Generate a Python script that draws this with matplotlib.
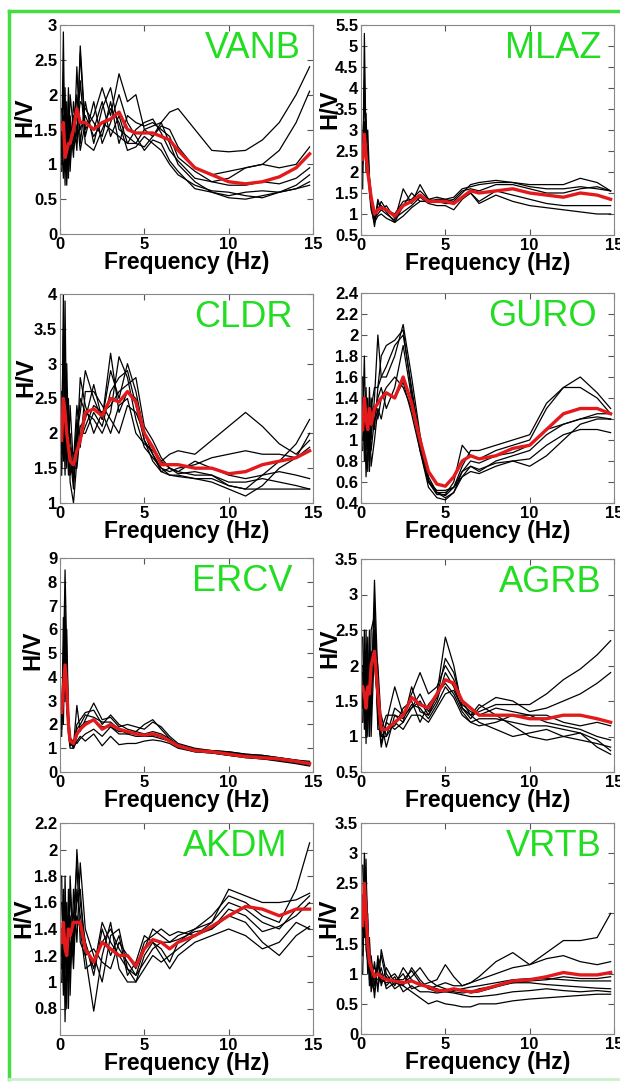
import matplotlib
matplotlib.use("Agg")
import matplotlib.pyplot as plt
from matplotlib.lines import Line2D

plt.rcParams['font.family'] = ['Liberation Sans', 'DejaVu Sans']

# Frequency grid (Hz)
freq = [0.1, 0.2, 0.3, 0.4, 0.5, 0.6, 0.8, 1.0, 1.2, 1.5, 2.0, 2.5, 3.0, 3.5, 4.0,
        4.5, 5.0, 5.5, 6.0, 6.5, 7.0, 8.0, 9.0, 10.0, 11.0, 12.0, 13.0, 14.0, 14.8]

stations = ["VANB", "MLAZ", "CLDR", "GURO", "ERCV", "AGRB", "AKDM", "VRTB"]

# ---------------- VANB ----------------
vanb_mean = [1.5, 1.6, 1.1, 1.2, 1.3, 1.3, 1.5, 1.8, 1.6, 1.6, 1.5, 1.6, 1.65, 1.75, 1.5,
             1.45, 1.45, 1.45, 1.4, 1.35, 1.2, 0.95, 0.85, 0.75, 0.72, 0.75, 0.82, 0.95, 1.15]
vanb_curves = [
    [1.2, 2.9, 0.9, 1.6, 1.0, 1.4, 1.3, 2.0, 1.5, 1.7, 1.4, 1.6, 1.5, 1.4, 1.3, 1.3, 1.5, 1.55, 1.6, 1.75, 1.8, 1.5, 1.2, 1.18, 1.2, 1.35, 1.6, 2.0, 2.4],
    [1.6, 1.1, 2.1, 0.8, 1.8, 1.0, 1.7, 1.2, 2.7, 1.5, 1.7, 2.1, 1.7, 2.3, 1.9, 2.0, 1.5, 1.4, 1.55, 1.5, 1.25, 0.95, 0.85, 0.9, 0.95, 1.0, 1.2, 1.6, 2.05],
    [1.0, 1.7, 0.7, 1.9, 0.9, 1.6, 1.1, 2.4, 1.3, 1.9, 1.3, 1.8, 2.1, 1.5, 1.4, 1.3, 1.25, 1.4, 1.6, 1.3, 1.0, 0.75, 0.6, 0.55, 0.6, 0.62, 0.6, 0.7, 0.85],
    [1.4, 0.8, 1.4, 0.7, 1.6, 0.9, 1.9, 1.4, 2.6, 1.4, 1.9, 1.3, 1.6, 2.0, 1.6, 1.4, 1.2, 1.35, 1.3, 1.05, 0.9, 0.65, 0.6, 0.52, 0.5, 0.55, 0.6, 0.65, 0.7],
    [1.8, 1.3, 1.0, 1.5, 1.2, 2.0, 1.5, 1.7, 1.2, 1.6, 1.5, 1.9, 1.4, 1.7, 1.3, 1.5, 1.6, 1.65, 1.45, 1.2, 1.05, 0.8, 0.75, 0.8, 0.95, 1.0, 0.95, 1.0, 1.25],
    [1.1, 2.2, 1.2, 1.0, 2.1, 1.2, 1.4, 1.3, 2.2, 1.3, 1.2, 1.5, 1.8, 1.6, 1.2, 1.25, 1.4, 1.3, 1.2, 1.0, 0.85, 0.7, 0.62, 0.6, 0.55, 0.52, 0.6, 0.65, 0.75],
    [0.9, 1.5, 1.8, 1.3, 0.8, 1.7, 1.2, 1.5, 1.9, 1.8, 1.6, 1.4, 1.9, 1.3, 1.7, 1.6, 1.55, 1.6, 1.5, 1.4, 1.1, 0.9, 0.75, 0.7, 0.7, 0.75, 0.72, 0.8, 0.95],
]

# ---------------- MLAZ ----------------
mlaz_mean = [2.3, 2.9, 2.4, 2.0, 1.7, 1.4, 1.0, 1.1, 1.15, 1.1, 0.95, 1.2, 1.3, 1.45, 1.3,
             1.3, 1.3, 1.25, 1.4, 1.55, 1.5, 1.55, 1.6, 1.5, 1.45, 1.4, 1.5, 1.45, 1.35]
mlaz_curves = [
    [1.6, 5.3, 2.5, 3.0, 1.9, 1.5, 0.8, 1.35, 1.1, 1.0, 0.85, 1.6, 1.25, 1.7, 1.35, 1.4, 1.35, 1.4, 1.6, 1.65, 1.7, 1.75, 1.75, 1.7, 1.7, 1.7, 1.85, 1.75, 1.55],
    [2.6, 3.7, 3.0, 2.2, 1.6, 1.2, 0.7, 1.25, 1.2, 1.05, 0.8, 1.2, 1.5, 1.3, 1.3, 1.35, 1.35, 1.3, 1.5, 1.7, 1.75, 1.8, 1.75, 1.65, 1.6, 1.6, 1.65, 1.6, 1.55],
    [2.2, 3.2, 2.0, 2.6, 1.8, 1.3, 0.9, 1.0, 1.1, 1.2, 0.9, 1.05, 1.2, 1.4, 1.25, 1.2, 1.2, 1.1, 1.35, 1.5, 1.3, 1.55, 1.45, 1.35, 1.25, 1.2, 1.2, 1.2, 1.2],
    [2.0, 4.2, 2.7, 2.3, 1.5, 1.1, 0.8, 0.95, 1.0, 0.9, 0.8, 0.95, 1.15, 1.3, 1.3, 1.3, 1.25, 1.25, 1.4, 1.5, 1.25, 1.45, 1.3, 1.2, 1.15, 1.1, 1.05, 1.0, 1.0],
    [2.4, 2.6, 3.4, 1.9, 1.7, 1.4, 1.0, 1.1, 1.3, 1.1, 1.0, 1.3, 1.35, 1.55, 1.35, 1.3, 1.3, 1.35, 1.55, 1.6, 1.55, 1.7, 1.7, 1.6, 1.5, 1.5, 1.6, 1.65, 1.55],
]

# ---------------- CLDR ----------------
cldr_mean = [1.9, 2.5, 2.3, 2.0, 1.8, 1.6, 1.55, 1.75, 1.9, 2.3, 2.35, 2.25, 2.5, 2.45, 2.6,
             2.45, 2.0, 1.8, 1.55, 1.55, 1.55, 1.5, 1.5, 1.42, 1.45, 1.55, 1.6, 1.65, 1.75]
cldr_curves = [
    [1.5, 4.0, 1.9, 2.6, 1.6, 2.0, 1.3, 2.0, 2.3, 2.9, 2.5, 2.2, 2.9, 2.5, 3.0, 2.6, 2.0, 1.8, 1.6, 1.7, 1.75, 1.7, 1.9, 2.1, 2.3, 2.1, 1.85, 1.7, 1.9],
    [2.2, 1.6, 3.9, 1.7, 2.2, 1.3, 1.0, 1.6, 2.1, 2.2, 2.7, 2.2, 3.15, 2.3, 2.6, 2.5, 1.9, 1.7, 1.5, 1.4, 1.4, 1.35, 1.35, 1.25, 1.2, 1.4, 1.6, 1.85, 2.2],
    [1.8, 2.4, 1.4, 3.0, 1.9, 1.7, 1.2, 1.9, 2.5, 2.3, 2.2, 2.0, 2.3, 3.1, 2.8, 2.2, 1.8, 1.65, 1.5, 1.45, 1.5, 1.55, 1.65, 1.7, 1.75, 1.7, 1.7, 1.65, 1.8],
    [2.6, 1.7, 2.1, 1.5, 2.5, 1.5, 1.4, 2.2, 1.8, 2.6, 2.6, 2.4, 2.2, 2.0, 2.4, 2.3, 2.0, 1.7, 1.45, 1.4, 1.38, 1.35, 1.3, 1.2, 1.1, 1.25, 1.5, 1.65, 2.0],
    [1.4, 2.9, 2.6, 1.9, 1.7, 2.4, 1.5, 1.5, 2.0, 2.0, 2.3, 2.1, 2.6, 2.8, 2.9, 2.4, 1.9, 1.6, 1.45, 1.5, 1.45, 1.4, 1.4, 1.3, 1.3, 1.35, 1.3, 1.25, 1.2],
    [2.0, 3.5, 1.7, 2.3, 1.4, 1.8, 1.7, 1.8, 2.8, 2.4, 2.0, 2.3, 2.4, 2.6, 2.7, 2.8, 2.1, 1.9, 1.65, 1.5, 1.45, 1.6, 1.5, 1.4, 1.35, 1.4, 1.45, 1.4, 1.35],
    [1.7, 2.1, 3.0, 1.6, 1.9, 1.4, 1.6, 2.4, 1.9, 2.1, 2.4, 2.3, 2.0, 2.4, 2.5, 2.0, 1.85, 1.75, 1.6, 1.5, 1.42, 1.45, 1.4, 1.25, 1.2, 1.2, 1.2, 1.2, 1.2],
]

# ---------------- GURO ----------------
guro_mean = [1.1, 1.4, 1.2, 1.1, 1.3, 1.15, 1.3, 1.35, 1.4, 1.45, 1.4, 1.6, 1.35, 1.0, 0.7,
             0.58, 0.56, 0.65, 0.8, 0.85, 0.82, 0.85, 0.92, 0.95, 1.1, 1.25, 1.3, 1.3, 1.25]
guro_curves = [
    [1.6, 0.8, 1.4, 0.7, 1.5, 1.0, 1.4, 2.0, 1.6, 1.6, 1.8, 2.1, 1.6, 1.05, 0.65, 0.5, 0.47, 0.55, 0.75, 0.9, 0.9, 0.95, 1.0, 1.05, 1.35, 1.5, 1.6, 1.45, 1.3],
    [1.2, 1.8, 0.9, 1.3, 0.7, 1.4, 1.1, 1.5, 1.8, 1.9, 1.95, 2.05, 1.45, 1.0, 0.6, 0.48, 0.48, 0.6, 0.95, 0.85, 0.82, 0.9, 0.95, 1.0, 1.3, 1.5, 1.5, 1.4, 1.25],
    [1.0, 1.3, 0.65, 1.1, 0.8, 1.2, 1.3, 1.2, 1.4, 1.5, 1.6, 1.5, 1.3, 0.95, 0.6, 0.5, 0.45, 0.5, 0.7, 0.75, 0.7, 0.8, 0.85, 0.9, 1.05, 1.15, 1.2, 1.22, 1.2],
    [1.4, 1.0, 1.5, 0.8, 1.2, 0.9, 1.2, 1.4, 1.5, 1.3, 1.5, 1.9, 1.4, 0.9, 0.55, 0.45, 0.43, 0.5, 0.65, 0.75, 0.72, 0.78, 0.8, 0.82, 0.95, 1.05, 1.1, 1.1, 1.07],
    [0.9, 1.4, 1.1, 1.0, 1.3, 0.75, 1.0, 1.3, 1.2, 1.45, 1.4, 1.55, 1.25, 0.9, 0.6, 0.52, 0.52, 0.55, 0.65, 0.7, 0.68, 0.75, 0.8, 0.75, 0.85, 1.0, 1.15, 1.2, 1.2],
    [1.3, 1.1, 1.2, 1.4, 0.9, 1.3, 1.5, 1.5, 1.6, 1.7, 1.9, 2.0, 1.5, 1.0, 0.62, 0.5, 0.5, 0.55, 0.7, 0.8, 0.78, 0.85, 0.88, 0.95, 1.1, 1.15, 1.2, 1.25, 1.25],
]

# ---------------- ERCV ----------------
ercv_mean = [2.5, 3.5, 4.5, 3.5, 2.0, 1.3, 1.2, 1.6, 1.8, 2.0, 2.2, 1.8, 2.0, 1.8, 1.7,
             1.6, 1.55, 1.6, 1.5, 1.3, 1.1, 0.9, 0.85, 0.75, 0.65, 0.6, 0.55, 0.45, 0.35]
ercv_curves = [
    [2.0, 4.5, 8.5, 5.0, 2.5, 1.5, 1.0, 2.0, 2.2, 2.5, 2.6, 2.0, 2.4, 2.0, 1.8, 1.7, 1.6, 1.7, 1.6, 1.4, 1.15, 0.95, 0.9, 0.8, 0.7, 0.65, 0.55, 0.45, 0.35],
    [1.5, 6.5, 3.0, 4.0, 1.8, 1.2, 1.1, 2.8, 1.7, 2.2, 2.9, 2.2, 2.3, 1.9, 2.0, 1.9, 1.8, 2.1, 1.9, 1.5, 1.2, 1.0, 0.9, 0.85, 0.75, 0.7, 0.6, 0.5, 0.4],
    [3.0, 2.0, 5.5, 2.5, 2.2, 1.3, 1.0, 1.3, 1.5, 1.3, 1.6, 1.1, 1.5, 1.15, 1.2, 1.2, 1.3, 1.35, 1.3, 1.2, 1.0, 0.85, 0.8, 0.7, 0.6, 0.55, 0.5, 0.4, 0.3],
    [2.5, 3.0, 6.5, 3.0, 2.0, 1.1, 1.2, 1.8, 2.0, 2.4, 2.3, 2.1, 2.1, 1.8, 1.6, 1.5, 1.5, 1.5, 1.4, 1.3, 1.1, 0.9, 0.85, 0.8, 0.7, 0.6, 0.5, 0.4, 0.3],
    [1.8, 3.5, 4.0, 6.0, 2.3, 1.4, 1.3, 1.2, 1.4, 1.6, 1.8, 1.5, 1.9, 1.6, 1.6, 1.7, 2.0, 2.2, 1.8, 1.4, 1.1, 0.9, 0.9, 0.85, 0.75, 0.7, 0.6, 0.5, 0.45],
    [2.2, 5.0, 7.0, 2.8, 1.6, 1.0, 1.0, 1.5, 1.9, 2.1, 2.2, 1.9, 1.9, 1.7, 1.7, 1.6, 1.5, 1.55, 1.5, 1.3, 1.05, 0.85, 0.8, 0.7, 0.62, 0.55, 0.45, 0.35, 0.25],
]

# ---------------- AGRB ----------------
agrb_mean = [1.7, 1.6, 1.4, 1.7, 1.6, 2.0, 2.2, 1.6, 1.1, 1.1, 1.2, 1.3, 1.55, 1.45, 1.4,
             1.6, 1.8, 1.75, 1.5, 1.4, 1.3, 1.3, 1.3, 1.25, 1.25, 1.3, 1.3, 1.25, 1.2]
agrb_curves = [
    [2.4, 1.1, 2.5, 1.2, 2.2, 1.5, 3.2, 1.8, 1.0, 1.0, 1.4, 1.3, 1.6, 1.9, 1.6, 1.7, 2.0, 1.8, 1.5, 1.3, 1.35, 1.45, 1.45, 1.45, 1.6, 1.8, 1.95, 2.15, 2.35],
    [1.2, 2.5, 0.9, 2.4, 1.0, 2.5, 2.7, 1.4, 0.9, 1.2, 1.7, 1.3, 1.4, 1.5, 1.3, 1.6, 2.4, 2.0, 1.4, 1.25, 1.4, 1.55, 1.5, 1.35, 1.4, 1.5, 1.6, 1.75, 1.9],
    [1.6, 1.9, 1.3, 1.5, 1.8, 1.3, 2.9, 1.2, 1.3, 1.0, 1.2, 1.1, 1.3, 1.3, 1.2, 1.4, 1.6, 1.65, 1.4, 1.3, 1.2, 1.1, 1.0, 1.05, 1.1, 1.0, 0.95, 0.9, 0.85],
    [2.0, 1.4, 2.2, 1.0, 2.0, 1.7, 2.4, 2.0, 1.2, 0.85, 1.3, 1.2, 1.7, 1.35, 1.3, 1.5, 1.9, 1.7, 1.4, 1.3, 1.45, 1.3, 1.15, 1.0, 0.95, 1.0, 1.05, 0.95, 0.8],
    [1.4, 2.2, 1.0, 1.9, 1.3, 2.2, 2.0, 1.5, 1.0, 1.1, 1.15, 1.4, 1.5, 1.2, 1.45, 1.6, 1.75, 1.6, 1.35, 1.2, 1.15, 1.2, 1.3, 1.3, 1.3, 1.2, 1.15, 1.2, 1.15],
    [1.9, 1.2, 1.8, 1.4, 2.5, 1.0, 2.3, 1.3, 0.85, 1.2, 1.1, 1.2, 1.4, 1.6, 1.35, 1.55, 2.1, 1.9, 1.45, 1.35, 1.3, 1.4, 1.35, 1.3, 1.2, 1.15, 1.1, 1.0, 0.95],
    [1.5, 1.7, 1.2, 2.1, 1.1, 1.9, 2.5, 1.1, 1.1, 1.3, 1.3, 1.25, 1.45, 1.4, 1.25, 1.45, 1.7, 1.55, 1.3, 1.2, 1.25, 1.25, 1.2, 1.15, 1.15, 1.1, 1.05, 0.85, 0.75],
]

# ---------------- AKDM ----------------
akdm_mean = [1.3, 1.45, 1.25, 1.2, 1.4, 1.35, 1.45, 1.45, 1.45, 1.25, 1.15, 1.3, 1.25, 1.2, 1.2,
             1.12, 1.25, 1.32, 1.3, 1.25, 1.3, 1.35, 1.42, 1.5, 1.57, 1.55, 1.5, 1.55, 1.55]
akdm_curves = [
    [1.1, 1.7, 0.7, 1.5, 1.0, 1.8, 1.2, 2.0, 1.6, 1.3, 1.1, 1.45, 1.3, 1.2, 1.1, 1.05, 1.25, 1.4, 1.35, 1.3, 1.35, 1.4, 1.5, 1.65, 1.6, 1.5, 1.45, 1.7, 2.05],
    [1.8, 1.0, 1.6, 0.8, 1.7, 1.2, 1.5, 1.9, 1.3, 1.2, 0.78, 1.2, 1.45, 1.1, 1.0, 1.0, 1.2, 1.3, 1.25, 1.15, 1.3, 1.4, 1.45, 1.7, 1.65, 1.6, 1.6, 1.62, 1.67],
    [1.4, 0.9, 1.8, 1.1, 1.5, 0.9, 1.7, 1.3, 1.9, 1.4, 1.2, 1.0, 1.35, 1.4, 1.1, 1.0, 1.1, 1.2, 1.15, 1.2, 1.25, 1.35, 1.4, 1.5, 1.45, 1.3, 1.2, 1.35, 1.42],
    [1.2, 1.5, 1.1, 1.6, 0.8, 1.5, 1.1, 1.7, 1.5, 1.3, 1.05, 1.4, 1.2, 1.35, 1.05, 1.15, 1.35, 1.3, 1.2, 1.1, 1.2, 1.3, 1.35, 1.4, 1.35, 1.25, 1.3, 1.45, 1.4],
    [1.6, 1.3, 1.4, 1.0, 1.6, 1.1, 1.4, 1.6, 1.7, 1.2, 1.25, 1.15, 1.1, 1.3, 1.2, 1.1, 1.3, 1.35, 1.4, 1.35, 1.38, 1.35, 1.45, 1.6, 1.55, 1.45, 1.4, 1.55, 1.65],
    [1.0, 1.6, 1.2, 1.3, 1.1, 1.7, 1.3, 1.5, 1.4, 1.1, 1.15, 1.3, 1.4, 1.25, 1.15, 1.05, 1.15, 1.25, 1.3, 1.3, 1.32, 1.38, 1.4, 1.55, 1.5, 1.38, 1.42, 1.5, 1.6],
]

# ---------------- VRTB ----------------
vrtb_mean = [1.8, 2.5, 2.0, 1.5, 1.2, 1.1, 0.95, 1.0, 0.95, 0.9, 0.88, 0.85, 0.88, 0.82, 0.78,
             0.72, 0.72, 0.75, 0.72, 0.7, 0.72, 0.8, 0.88, 0.9, 0.95, 1.02, 0.98, 0.98, 1.02]
vrtb_curves = [
    [1.3, 3.0, 2.4, 1.8, 1.0, 1.3, 0.8, 1.1, 1.3, 0.9, 1.0, 0.8, 1.1, 0.9, 0.75, 0.8, 0.85, 0.8, 0.8, 0.85, 0.95, 1.2, 1.35, 1.15, 1.35, 1.55, 1.55, 1.6, 2.0],
    [2.8, 1.9, 2.9, 1.3, 1.5, 0.8, 1.2, 0.7, 1.4, 1.0, 0.8, 1.1, 0.9, 0.8, 0.85, 0.9, 1.15, 0.95, 0.8, 0.85, 0.9, 1.0, 1.1, 1.15, 1.25, 1.3, 1.2, 1.15, 1.2],
    [1.0, 2.2, 1.6, 2.0, 0.9, 1.2, 0.6, 1.2, 0.8, 1.1, 0.85, 0.8, 0.7, 0.6, 0.5, 0.55, 0.5, 0.48, 0.45, 0.45, 0.5, 0.5, 0.55, 0.58, 0.6, 0.62, 0.64, 0.66, 0.66],
    [2.0, 2.6, 1.8, 1.0, 1.3, 0.7, 1.0, 0.8, 1.0, 0.8, 0.95, 0.7, 0.8, 0.7, 0.7, 0.68, 0.7, 0.68, 0.65, 0.62, 0.62, 0.65, 0.7, 0.72, 0.75, 0.72, 0.7, 0.72, 0.7],
    [1.5, 2.8, 2.2, 1.4, 1.1, 1.0, 1.1, 1.0, 0.9, 0.85, 0.9, 0.9, 1.05, 0.85, 0.75, 0.7, 0.72, 0.75, 0.72, 0.68, 0.7, 0.78, 0.85, 0.88, 0.9, 0.95, 0.92, 0.92, 0.95],
    [2.3, 1.6, 2.6, 1.6, 0.8, 1.1, 0.9, 0.9, 1.1, 0.75, 0.85, 1.0, 0.75, 0.8, 0.8, 0.75, 0.7, 0.72, 0.75, 0.78, 0.8, 0.85, 0.9, 0.92, 0.92, 0.9, 0.88, 0.88, 0.88],
    [1.7, 2.4, 1.4, 1.2, 1.6, 0.9, 0.7, 1.3, 0.85, 0.95, 0.75, 0.85, 0.95, 1.1, 0.9, 0.8, 0.75, 0.7, 0.68, 0.7, 0.75, 0.8, 0.85, 0.85, 0.82, 0.8, 0.78, 0.76, 0.75],
]

means = [vanb_mean, mlaz_mean, cldr_mean, guro_mean, ercv_mean, agrb_mean, akdm_mean, vrtb_mean]
curves = [vanb_curves, mlaz_curves, cldr_curves, guro_curves, ercv_curves, agrb_curves, akdm_curves, vrtb_curves]

y_limits = [(0, 3), (0.5, 5.5), (1, 4), (0.4, 2.4), (0, 9), (0.5, 3.5), (0.6, 2.2), (0, 3.5)]
y_ticks = [
    [0, 0.5, 1, 1.5, 2, 2.5, 3],
    [0.5, 1, 1.5, 2, 2.5, 3, 3.5, 4, 4.5, 5, 5.5],
    [1, 1.5, 2, 2.5, 3, 3.5, 4],
    [0.4, 0.6, 0.8, 1, 1.2, 1.4, 1.6, 1.8, 2, 2.2, 2.4],
    [0, 1, 2, 3, 4, 5, 6, 7, 8, 9],
    [0.5, 1, 1.5, 2, 2.5, 3, 3.5],
    [0.8, 1, 1.2, 1.4, 1.6, 1.8, 2, 2.2],
    [0, 0.5, 1, 1.5, 2, 2.5, 3, 3.5],
]
x_ticks = [0, 5, 10, 15]
y_label_text = ["H/V", "H/V", "H/V", "", "H/V", "H/V", "H/V", "H/V"]

W, H = 620, 1082
fig = plt.figure(figsize=(W / 100, H / 100), dpi=100)

# axes boxes in pixels: (left, top, right, bottom)
boxes = [
    (60, 25, 313, 234), (361, 25, 614, 235),
    (60, 294, 313, 503), (361, 293, 614, 503),
    (60, 558, 313, 772), (361, 559, 614, 772),
    (60, 823, 313, 1035), (361, 823, 614, 1034),
]
label_x = [0.95, 0.95, 0.92, 0.93, 0.92, 0.95, 0.90, 0.95]
ylab_px = [25, 330, 26, 335, 33, 330, 24, 329]      # centre x of H/V label (pixels)
ylab_frac = [0.56, 0.6, 0.6, 0.5, 0.57, 0.58, 0.55, 0.55]

green = '#22dd22'

def fmt(v):
    return '%g' % v

for i, st in enumerate(stations):
    l, t, r, b = boxes[i]
    aw, ah = r - l, b - t
    ax = fig.add_axes([l / W, 1 - b / H, aw / W, ah / H])
    for c in curves[i]:
        ax.plot(freq, c, color='black', lw=0.9)
    ax.plot(freq, means[i], color='#e31a1c', lw=2.4)
    ax.set_xlim(0, 15)
    ax.set_ylim(*y_limits[i])
    ax.set_xticks(x_ticks)
    ax.set_xticklabels([fmt(v) for v in x_ticks], fontsize=12, fontweight='bold')
    ax.set_yticks(y_ticks[i])
    ax.set_yticklabels([fmt(v) for v in y_ticks[i]], fontsize=12, fontweight='bold')
    ax.tick_params(direction='in', top=True, right=True, length=4, width=0.8,
                   color='#555555', pad=2)
    for sp in ax.spines.values():
        sp.set_color('#888888')
        sp.set_linewidth(0.8)
    ax.set_xlabel('Frequency (Hz)', fontsize=16.5, fontweight='bold', va='top')
    ax.xaxis.set_label_coords(0.5, -17 / ah)
    if y_label_text[i]:
        ax.set_ylabel(y_label_text[i], fontsize=17, fontweight='bold', va='center')
        ax.yaxis.set_label_coords((ylab_px[i] - l) / aw, ylab_frac[i])
    ax.text(label_x[i], 0.97, st, transform=ax.transAxes, ha='right', va='top',
            fontsize=26, color=green)

# green frame
fig.add_artist(Line2D([9 / W, 9 / W], [1 - 11 / H, 1 - 1079 / H], color='#44dd44', lw=2.5))
fig.add_artist(Line2D([9 / W, 1.0], [1 - 11 / H, 1 - 11 / H], color='#44dd44', lw=2.5))
fig.add_artist(Line2D([9 / W, 1.0], [1 - 1079 / H, 1 - 1079 / H], color='#ccf0cc', lw=2.0))

fig.savefig('out.png', dpi=100)
